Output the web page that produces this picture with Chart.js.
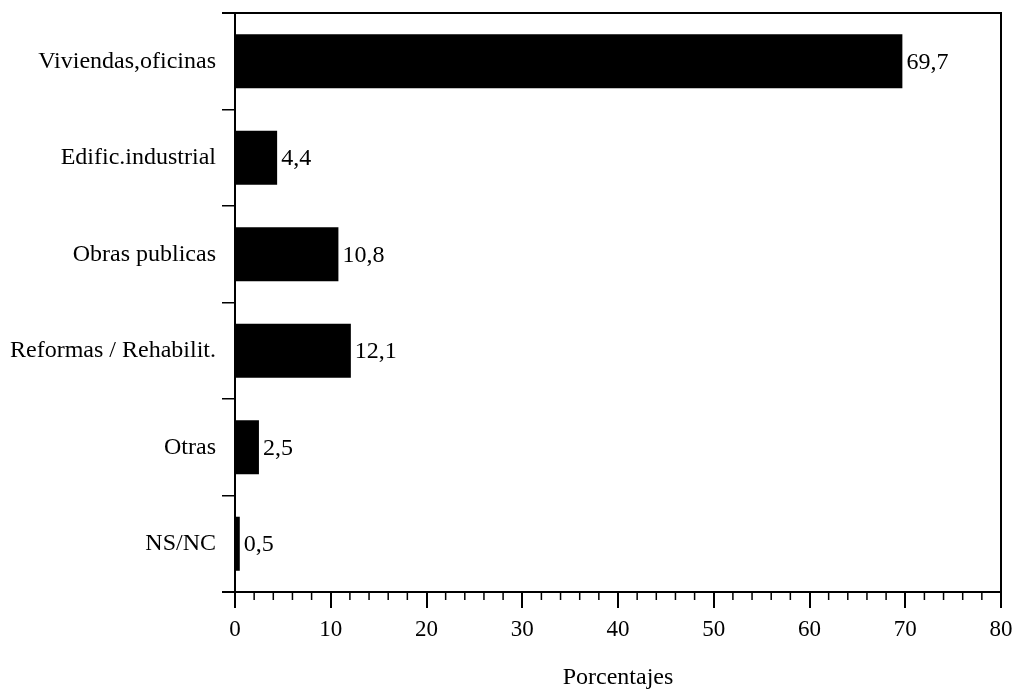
<!DOCTYPE html>
<html>
<head>
<meta charset="utf-8">
<script src="https://cdn.jsdelivr.net/npm/chart.js@4/dist/chart.umd.min.js"></script>
<style>
  html,body{ margin:0; padding:0; background:#fff; }
  #wrap{ width:1017px; height:690px; position:relative; }
</style>
</head>
<body>
<div id="wrap"><canvas id="chart"></canvas></div>
<script>
const categories = ["Viviendas,oficinas", "Edific.industrial", "Obras publicas", "Reformas / Rehabilit.", "Otras", "NS/NC"];
const values = [69.7, 4.4, 10.8, 12.1, 2.5, 0.5];
const valueLabels = ["69,7", "4,4", "10,8", "12,1", "2,5", "0,5"];
const xTitle = "Porcentajes";

const FONT = "'Liberation Serif', 'Times New Roman', serif";

// frame, minor ticks, value labels and axis title
const extras = {
  id: "extras",
  afterDraw(c){
    const ctx = c.ctx, a = c.chartArea, xs = c.scales.x;
    ctx.save();
    ctx.strokeStyle = "#000";
    ctx.lineWidth = 2;
    ctx.beginPath();
    ctx.moveTo(a.left - 13, a.top); ctx.lineTo(a.right, a.top);
    ctx.lineTo(a.right, a.bottom + 16);
    ctx.moveTo(a.left - 13, a.bottom); ctx.lineTo(a.right, a.bottom);
    ctx.moveTo(a.left, a.top); ctx.lineTo(a.left, a.bottom + 16);
    ctx.stroke();
    ctx.lineWidth = 1.5;
    ctx.beginPath();
    for(let v=2; v<80; v+=2){
      if(v%10===0) continue;
      const px = xs.getPixelForValue(v);
      ctx.moveTo(px, a.bottom); ctx.lineTo(px, a.bottom + 8);
    }
    ctx.stroke();

    ctx.fillStyle = "#000";
    ctx.font = "24px " + FONT;
    ctx.textBaseline = "middle";
    ctx.textAlign = "left";
    const meta = c.getDatasetMeta(0);
    meta.data.forEach((bar,i)=>{
      ctx.fillText(valueLabels[i], bar.x + 4, bar.y + 1);
    });
    ctx.textAlign = "center";
    ctx.fillText(xTitle, (a.left + a.right) / 2, 678);
    ctx.restore();
  }
};

new Chart(document.getElementById("chart"), {
  type: "bar",
  data: {
    labels: categories,
    datasets: [{ data: values, backgroundColor: "#000", borderWidth: 0,
      categoryPercentage: 1, barPercentage: 0.56 }]
  },
  options: {
    indexAxis: "y",
    responsive: true,
    maintainAspectRatio: false,
    animation: false,
    layout: { padding: { top: 13, right: 16, left: 0, bottom: 0 } },
    plugins: { legend: { display: false }, tooltip: { enabled: false } },
    scales: {
      x: {
        min: 0, max: 80,
        ticks: { stepSize: 10, color: "#000", padding: 8, font: { family: FONT, size: 23 } },
        grid: { drawOnChartArea: false, color: "#000", lineWidth: 2, tickLength: 16 },
        border: { display: false },
        afterFit(s){ s.height = 98; s.paddingLeft = 0; s.paddingRight = 0; }
      },
      y: {
        ticks: { color: "#000", padding: 6, font: { family: FONT, size: 24 } },
        grid: { drawOnChartArea: false, color: "#000", lineWidth: 1.5, tickLength: 13, offset: true },
        border: { display: false },
        afterFit(s){ s.width = 235; s.paddingTop = 0; s.paddingBottom = 0; }
      }
    }
  },
  plugins: [extras]
});
</script>
</body>
</html>
